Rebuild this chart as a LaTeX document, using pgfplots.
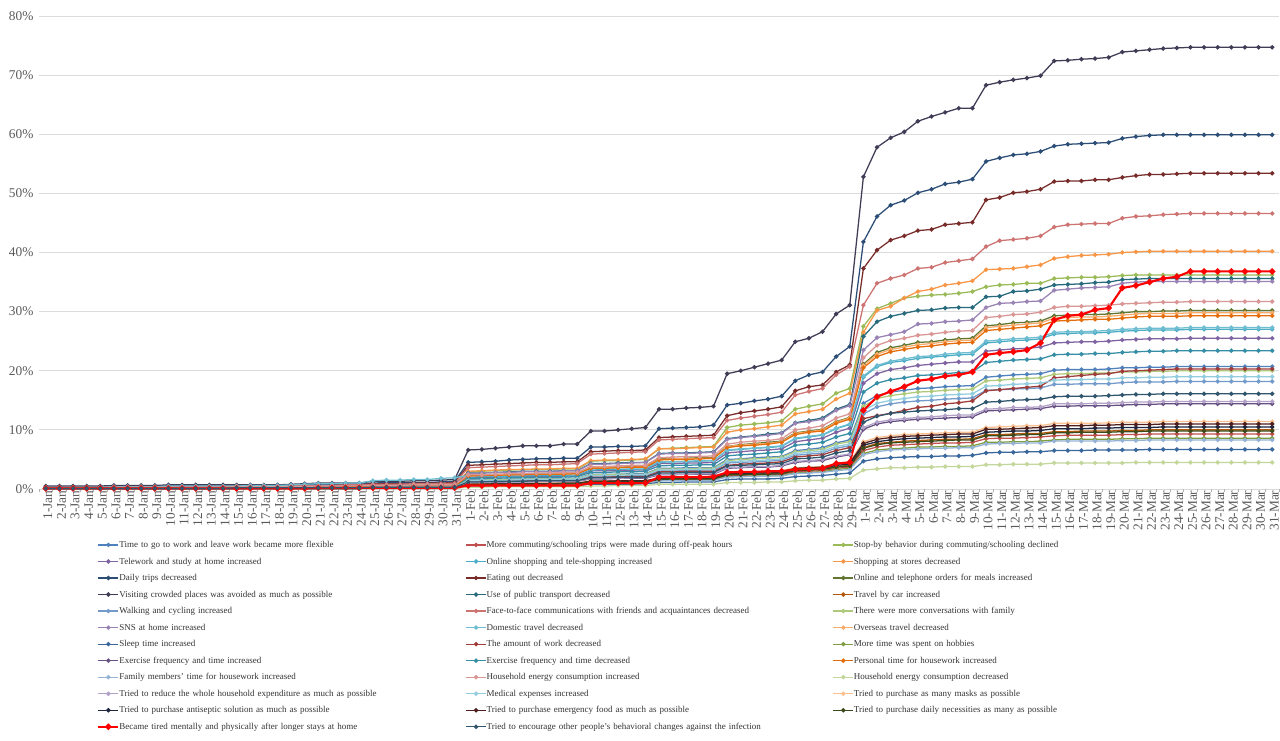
\documentclass[border=0pt]{standalone}
\usepackage{pgfplots}
\usepackage{pgfplotstable}
\pgfplotsset{compat=1.18}
\usepackage{fontspec}
\setmainfont{Liberation Serif}

% series colours
\definecolor{c1}{HTML}{4F81BD}\definecolor{c2}{HTML}{C0504D}\definecolor{c3}{HTML}{9BBB59}
\definecolor{c4}{HTML}{8064A2}\definecolor{c5}{HTML}{4BACC6}\definecolor{c6}{HTML}{F79646}
\definecolor{c7}{HTML}{2C4D75}\definecolor{c8}{HTML}{772C2A}\definecolor{c9}{HTML}{5F7530}
\definecolor{c10}{HTML}{3F3D56}\definecolor{c11}{HTML}{276A7C}\definecolor{c12}{HTML}{B65708}
\definecolor{c13}{HTML}{729ACA}\definecolor{c14}{HTML}{CD7371}\definecolor{c15}{HTML}{AFC97A}
\definecolor{c16}{HTML}{9983B5}\definecolor{c17}{HTML}{6FBDD1}\definecolor{c18}{HTML}{F9AB6B}
\definecolor{c19}{HTML}{3A679C}\definecolor{c20}{HTML}{9F3B38}\definecolor{c21}{HTML}{7E9D40}
\definecolor{c22}{HTML}{664F83}\definecolor{c23}{HTML}{358EA6}\definecolor{c24}{HTML}{E46C0A}
\definecolor{c25}{HTML}{95B3D7}\definecolor{c26}{HTML}{D99694}\definecolor{c27}{HTML}{C3D69B}
\definecolor{c28}{HTML}{B3A2C7}\definecolor{c29}{HTML}{93CDDD}\definecolor{c30}{HTML}{FAC090}
\definecolor{c31}{HTML}{1F2740}\definecolor{c32}{HTML}{4F1F1E}\definecolor{c33}{HTML}{3B4A1C}
\definecolor{c34}{HTML}{FF0000}\definecolor{c35}{HTML}{30566E}

% one series = one row of 91 daily values (1 Jan -- 31 Mar), stored as a column
\newcommand{\readseries}[2]{%
  \pgfplotstableread[header=false,row sep=\\]{#2\\}\tmpraw
  \pgfplotstabletranspose{#1}{\tmpraw}}

\readseries{\dA}{0.1 0.1 0.1 0.1 0.1 0.1 0.1 0.1 0.1 0.1 0.1 0.1 0.1 0.1 0.2 0.2 0.2 0.2 0.2 0.2 0.2 0.2 0.2 0.2 0.3 0.3 0.3 0.3 0.3 0.3 0.3
1.6 1.6 1.6 1.7 1.7 1.7 1.7 1.8 1.8 2.5 2.5 2.5 2.6 2.6 3.5 3.5 3.6 3.6 3.6 5.0 5.1 5.3 5.4 5.5 6.5 6.7 7.0 7.8 8.3
14.5 15.8 16.4 16.7 17.0 17.1 17.3 17.4 17.5 18.9 19.1 19.3 19.4 19.5 20.1 20.2 20.2 20.2 20.3 20.5 20.5 20.6 20.6 20.7 20.7 20.7 20.7 20.7 20.7 20.7 20.7}
\readseries{\dB}{0.1 0.1 0.1 0.1 0.1 0.1 0.1 0.1 0.1 0.1 0.1 0.1 0.1 0.1 0.1 0.1 0.1 0.1 0.1 0.1 0.1 0.1 0.1 0.1 0.2 0.2 0.2 0.2 0.2 0.2 0.2
0.7 0.7 0.7 0.8 0.8 0.8 0.8 0.8 0.8 1.1 1.1 1.1 1.2 1.2 1.6 1.6 1.6 1.6 1.6 2.2 2.3 2.4 2.4 2.5 2.9 3.0 3.1 3.5 3.7
6.5 7.1 7.4 7.5 7.6 7.7 7.8 7.8 7.9 8.5 8.6 8.6 8.7 8.8 9.0 9.1 9.1 9.1 9.1 9.2 9.2 9.3 9.3 9.3 9.3 9.3 9.3 9.3 9.3 9.3 9.3}
\readseries{\dC}{0.2 0.2 0.2 0.2 0.2 0.3 0.3 0.3 0.3 0.3 0.3 0.3 0.3 0.3 0.4 0.4 0.4 0.4 0.4 0.4 0.5 0.5 0.5 0.5 0.6 0.6 0.6 0.7 0.7 0.7 0.7
2.9 3.0 3.1 3.2 3.3 3.3 3.3 3.4 3.4 4.7 4.8 4.8 4.9 5.0 6.8 6.9 7.0 7.1 7.2 10.4 10.8 11.0 11.2 11.5 13.5 14.0 14.4 16.2 17.0
27.5 30.5 31.4 32.3 32.6 32.8 32.9 33.1 33.4 34.2 34.5 34.6 34.8 34.8 35.6 35.7 35.8 35.8 35.9 36.1 36.2 36.2 36.2 36.2 36.2 36.2 36.2 36.2 36.2 36.2 36.2}
\readseries{\dD}{0.2 0.2 0.2 0.2 0.2 0.2 0.2 0.2 0.2 0.2 0.2 0.2 0.2 0.2 0.3 0.3 0.3 0.3 0.3 0.3 0.3 0.3 0.4 0.4 0.4 0.5 0.5 0.5 0.5 0.5 0.5
1.9 2.0 2.0 2.1 2.1 2.1 2.1 2.2 2.2 3.1 3.1 3.1 3.2 3.2 4.3 4.3 4.4 4.4 4.5 6.1 6.3 6.5 6.6 6.8 8.0 8.3 8.6 9.6 10.3
17.9 19.5 20.2 20.5 20.9 21.1 21.3 21.5 21.5 23.3 23.5 23.7 23.8 24.0 24.7 24.8 24.9 24.9 25.0 25.2 25.3 25.4 25.4 25.4 25.5 25.5 25.5 25.5 25.5 25.5 25.5}
\readseries{\dE}{0.2 0.2 0.2 0.2 0.2 0.2 0.2 0.2 0.2 0.2 0.2 0.2 0.2 0.2 0.3 0.3 0.3 0.3 0.3 0.3 0.3 0.3 0.4 0.4 0.4 0.5 0.5 0.5 0.5 0.5 0.5
2.0 2.1 2.1 2.2 2.2 2.3 2.3 2.3 2.4 3.2 3.3 3.3 3.4 3.4 4.5 4.6 4.6 4.7 4.8 6.5 6.7 6.9 7.0 7.2 8.5 8.8 9.1 10.2 10.9
18.9 20.7 21.4 21.7 22.1 22.3 22.5 22.7 22.8 24.7 24.9 25.1 25.2 25.4 26.2 26.3 26.4 26.4 26.5 26.7 26.8 26.9 26.9 26.9 27.0 27.0 27.0 27.0 27.0 27.0 27.0}
\readseries{\dF}{0.3 0.3 0.3 0.3 0.3 0.3 0.3 0.3 0.3 0.4 0.4 0.4 0.4 0.4 0.4 0.4 0.4 0.4 0.4 0.5 0.5 0.5 0.6 0.6 0.7 0.7 0.7 0.8 0.8 0.8 0.8
3.0 3.1 3.2 3.3 3.3 3.4 3.4 3.5 3.5 4.8 4.9 4.9 5.0 5.1 6.8 6.8 6.9 7.0 7.1 9.6 10.0 10.2 10.5 10.8 12.7 13.1 13.5 15.2 16.2
26.5 30.2 30.9 32.3 33.4 33.8 34.5 34.8 35.2 37.1 37.2 37.3 37.6 37.9 39.0 39.3 39.5 39.6 39.7 40.0 40.1 40.2 40.2 40.2 40.2 40.2 40.2 40.2 40.2 40.2 40.2}
\readseries{\dG}{0.4 0.4 0.4 0.4 0.4 0.5 0.5 0.5 0.5 0.5 0.5 0.5 0.5 0.5 0.6 0.6 0.6 0.6 0.7 0.7 0.8 0.8 0.8 0.8 1.0 1.1 1.1 1.1 1.1 1.2 1.3
4.5 4.6 4.7 4.9 5.0 5.1 5.1 5.2 5.2 7.1 7.1 7.2 7.2 7.3 10.2 10.3 10.4 10.5 10.8 14.2 14.5 14.9 15.2 15.7 18.3 19.3 19.8 22.4 24.1
41.8 46.1 48.0 48.8 50.1 50.7 51.6 51.9 52.4 55.4 56.0 56.5 56.7 57.1 58.0 58.3 58.4 58.5 58.6 59.3 59.6 59.8 59.9 59.9 59.9 59.9 59.9 59.9 59.9 59.9 59.9}
\readseries{\dH}{0.3 0.3 0.3 0.3 0.3 0.4 0.4 0.4 0.4 0.4 0.4 0.4 0.4 0.4 0.5 0.5 0.5 0.5 0.5 0.6 0.6 0.6 0.7 0.7 0.9 0.9 0.9 1.0 1.0 1.0 1.1
4.0 4.1 4.2 4.3 4.4 4.5 4.5 4.6 4.6 6.3 6.4 6.5 6.5 6.6 8.7 8.8 8.9 9.0 9.1 12.4 12.9 13.2 13.5 13.9 16.6 17.3 17.6 19.8 21.0
37.3 40.4 42.1 42.8 43.7 43.9 44.7 44.9 45.1 48.9 49.3 50.1 50.3 50.7 52.0 52.1 52.1 52.3 52.3 52.7 53.0 53.2 53.2 53.3 53.4 53.4 53.4 53.4 53.4 53.4 53.4}
\readseries{\dI}{0.2 0.2 0.2 0.2 0.2 0.3 0.3 0.3 0.3 0.3 0.3 0.3 0.3 0.3 0.4 0.4 0.4 0.4 0.4 0.4 0.5 0.5 0.5 0.5 0.6 0.6 0.6 0.7 0.7 0.7 0.7
2.3 2.3 2.4 2.4 2.5 2.5 2.5 2.6 2.7 3.6 3.7 3.7 3.8 3.8 5.1 5.1 5.2 5.3 5.3 7.2 7.5 7.7 7.9 8.1 9.5 9.8 10.1 11.4 12.1
21.1 23.1 23.9 24.3 24.8 24.9 25.2 25.4 25.5 27.6 27.8 28.1 28.2 28.4 29.3 29.4 29.5 29.5 29.6 29.8 30.0 30.0 30.1 30.1 30.2 30.2 30.2 30.2 30.2 30.2 30.2}
\readseries{\dJ}{0.5 0.5 0.5 0.5 0.5 0.6 0.6 0.6 0.6 0.7 0.7 0.7 0.7 0.7 0.7 0.7 0.7 0.7 0.8 0.9 1.0 1.0 1.0 1.0 1.3 1.3 1.3 1.4 1.4 1.5 1.6
6.6 6.7 6.9 7.1 7.3 7.3 7.3 7.6 7.6 9.8 9.8 10.0 10.2 10.4 13.5 13.5 13.7 13.8 14.0 19.5 20.0 20.6 21.2 21.8 24.9 25.5 26.6 29.6 31.1
52.8 57.8 59.4 60.4 62.2 63.0 63.7 64.4 64.4 68.3 68.8 69.2 69.5 69.9 72.4 72.5 72.7 72.8 73.0 73.9 74.1 74.3 74.5 74.6 74.7 74.7 74.7 74.7 74.7 74.7 74.7}
\readseries{\dK}{0.2 0.2 0.2 0.2 0.2 0.3 0.3 0.3 0.3 0.3 0.3 0.3 0.3 0.3 0.4 0.4 0.4 0.4 0.4 0.4 0.5 0.5 0.5 0.5 0.6 0.6 0.6 0.7 0.7 0.7 0.7
2.7 2.7 2.8 2.9 3.0 3.0 3.0 3.1 3.1 4.3 4.3 4.4 4.5 4.5 6.0 6.1 6.1 6.2 6.3 8.5 8.8 9.0 9.3 9.5 11.2 11.6 12.0 13.5 14.3
25.8 28.3 29.2 29.7 30.2 30.3 30.6 30.7 30.7 32.5 32.6 33.4 33.5 33.8 34.5 34.6 34.7 34.9 35.0 35.4 35.5 35.6 35.6 35.6 35.6 35.6 35.6 35.6 35.6 35.6 35.6}
\readseries{\dL}{0.1 0.1 0.1 0.1 0.1 0.1 0.1 0.1 0.1 0.1 0.1 0.1 0.1 0.1 0.1 0.1 0.1 0.1 0.1 0.1 0.1 0.1 0.1 0.1 0.2 0.2 0.2 0.2 0.2 0.2 0.2
0.8 0.8 0.8 0.8 0.8 0.8 0.8 0.9 0.9 1.2 1.2 1.2 1.3 1.3 1.7 1.7 1.7 1.7 1.8 2.4 2.5 2.5 2.6 2.7 3.2 3.3 3.4 3.8 4.0
7.0 7.7 7.9 8.1 8.2 8.3 8.4 8.4 8.5 9.2 9.2 9.3 9.4 9.4 9.7 9.7 9.8 9.8 9.8 9.9 9.9 10.0 10.0 10.0 10.0 10.0 10.0 10.0 10.0 10.0 10.0}
\readseries{\dM}{0.1 0.1 0.1 0.1 0.1 0.1 0.1 0.1 0.1 0.1 0.1 0.1 0.1 0.1 0.2 0.2 0.2 0.2 0.2 0.2 0.2 0.2 0.2 0.2 0.3 0.3 0.3 0.3 0.3 0.3 0.3
1.4 1.4 1.4 1.5 1.5 1.5 1.5 1.6 1.6 2.2 2.2 2.2 2.3 2.3 3.1 3.1 3.1 3.2 3.2 4.4 4.5 4.6 4.7 4.9 5.7 5.9 6.1 6.9 7.3
12.7 13.9 14.4 14.7 14.9 15.0 15.2 15.3 15.4 16.7 16.8 16.9 17.0 17.1 17.7 17.7 17.8 17.8 17.8 18.0 18.1 18.1 18.1 18.2 18.2 18.2 18.2 18.2 18.2 18.2 18.2}
\readseries{\dN}{0.3 0.3 0.3 0.3 0.3 0.4 0.4 0.4 0.4 0.4 0.4 0.4 0.4 0.4 0.5 0.5 0.5 0.5 0.5 0.6 0.6 0.6 0.7 0.7 0.8 0.8 0.8 0.9 0.9 0.9 1.0
3.6 3.7 3.8 3.9 4.0 4.1 4.1 4.2 4.3 5.9 6.0 6.1 6.2 6.3 8.3 8.4 8.5 8.6 8.7 11.6 12.0 12.3 12.6 13.0 15.9 16.5 17.0 19.3 20.7
31.1 34.8 35.6 36.2 37.3 37.5 38.3 38.6 38.9 41.0 42.0 42.2 42.4 42.8 44.3 44.7 44.8 44.9 44.9 45.8 46.1 46.2 46.4 46.5 46.6 46.6 46.6 46.6 46.6 46.6 46.6}
\readseries{\dO}{0.1 0.1 0.1 0.1 0.1 0.1 0.1 0.1 0.1 0.1 0.1 0.1 0.1 0.1 0.2 0.2 0.2 0.2 0.2 0.2 0.2 0.2 0.2 0.2 0.3 0.3 0.3 0.3 0.3 0.3 0.3
1.5 1.5 1.6 1.6 1.7 1.7 1.7 1.7 1.8 2.4 2.4 2.5 2.5 2.5 3.4 3.4 3.4 3.5 3.5 4.8 5.0 5.1 5.2 5.4 6.3 6.5 6.7 7.6 8.0
14.0 15.3 15.8 16.1 16.4 16.5 16.7 16.8 16.9 18.3 18.4 18.6 18.7 18.8 19.4 19.5 19.5 19.6 19.6 19.8 19.8 19.9 19.9 20.0 20.0 20.0 20.0 20.0 20.0 20.0 20.0}
\readseries{\dP}{0.2 0.2 0.2 0.2 0.2 0.3 0.3 0.3 0.3 0.3 0.3 0.3 0.3 0.3 0.4 0.4 0.4 0.4 0.4 0.4 0.5 0.5 0.5 0.5 0.6 0.6 0.6 0.7 0.7 0.7 0.7
2.6 2.7 2.8 2.8 2.9 2.9 2.9 3.1 3.1 4.2 4.2 4.3 4.4 4.5 5.9 6.0 6.0 6.1 6.2 8.4 8.7 8.9 9.1 9.4 11.1 11.4 11.8 13.3 14.1
23.5 25.6 26.1 26.6 27.9 28.0 28.3 28.4 28.6 30.7 31.4 31.5 31.7 31.8 33.6 33.8 34.0 34.1 34.2 34.8 35.0 35.1 35.1 35.1 35.1 35.1 35.1 35.1 35.1 35.1 35.1}
\readseries{\dQ}{0.3 0.3 0.3 0.3 0.3 0.4 0.4 0.4 0.4 0.5 0.5 0.5 0.5 0.5 0.5 0.6 0.6 0.6 0.7 0.8 0.9 0.9 1.0 1.0 1.4 1.5 1.5 1.6 1.6 1.8 1.9
2.3 2.4 2.4 2.5 2.5 2.6 2.6 2.7 2.7 3.5 3.5 3.6 3.6 3.7 4.6 4.6 4.7 4.8 4.8 6.6 6.8 6.9 7.1 7.3 8.6 8.9 9.2 10.3 11.0
19.1 20.9 21.6 22.0 22.4 22.5 22.8 23.0 23.1 25.0 25.2 25.4 25.5 25.7 26.5 26.6 26.6 26.7 26.8 27.0 27.1 27.2 27.2 27.2 27.3 27.3 27.3 27.3 27.3 27.3 27.3}
\readseries{\dR}{0.2 0.2 0.2 0.2 0.2 0.2 0.2 0.2 0.2 0.2 0.2 0.2 0.2 0.2 0.3 0.3 0.3 0.3 0.3 0.3 0.3 0.3 0.4 0.4 0.4 0.5 0.5 0.5 0.5 0.5 0.5
2.2 2.3 2.4 2.4 2.5 2.5 2.5 2.6 2.6 3.6 3.6 3.7 3.7 3.8 5.0 5.1 5.1 5.2 5.2 7.2 7.4 7.6 7.7 8.0 9.4 9.7 10.0 11.3 12.0
20.9 22.8 23.6 24.0 24.4 24.6 24.9 25.1 25.2 27.3 27.5 27.7 27.9 28.1 28.9 29.0 29.1 29.1 29.2 29.4 29.6 29.7 29.7 29.7 29.8 29.8 29.8 29.8 29.8 29.8 29.8}
\readseries{\dS}{0.1 0.1 0.1 0.1 0.1 0.1 0.1 0.1 0.1 0.1 0.1 0.1 0.1 0.1 0.1 0.1 0.1 0.1 0.1 0.1 0.1 0.1 0.1 0.1 0.1 0.1 0.1 0.1 0.1 0.1 0.1
0.5 0.5 0.5 0.5 0.6 0.6 0.6 0.6 0.6 0.8 0.8 0.8 0.8 0.9 1.1 1.1 1.2 1.2 1.2 1.6 1.7 1.7 1.7 1.8 2.1 2.2 2.3 2.5 2.7
4.7 5.1 5.3 5.4 5.5 5.5 5.6 5.6 5.7 6.1 6.2 6.2 6.3 6.3 6.5 6.5 6.5 6.6 6.6 6.6 6.6 6.7 6.7 6.7 6.7 6.7 6.7 6.7 6.7 6.7 6.7}
\readseries{\dT}{0.1 0.1 0.1 0.1 0.1 0.1 0.1 0.1 0.1 0.1 0.1 0.1 0.1 0.1 0.2 0.2 0.2 0.2 0.2 0.2 0.2 0.2 0.2 0.2 0.3 0.3 0.3 0.3 0.3 0.3 0.3
1.2 1.2 1.3 1.3 1.3 1.4 1.4 1.4 1.4 2.0 2.0 2.1 2.1 2.1 2.9 2.9 3.0 3.0 3.0 4.0 4.2 4.3 4.4 4.6 5.4 5.6 5.8 6.5 7.0
11.9 12.4 12.8 13.3 13.8 14.0 14.4 14.6 14.9 16.6 16.8 17.0 17.2 17.4 18.8 19.0 19.2 19.4 19.5 19.9 20.0 20.1 20.2 20.3 20.3 20.3 20.3 20.3 20.3 20.3 20.3}
\readseries{\dU}{0.1 0.1 0.1 0.1 0.1 0.1 0.1 0.1 0.1 0.1 0.1 0.1 0.1 0.1 0.1 0.1 0.1 0.1 0.1 0.1 0.1 0.1 0.1 0.1 0.2 0.2 0.2 0.2 0.2 0.2 0.2
0.6 0.7 0.7 0.7 0.7 0.7 0.7 0.7 0.8 1.0 1.0 1.1 1.1 1.1 1.4 1.5 1.5 1.5 1.5 2.1 2.1 2.2 2.2 2.3 2.7 2.8 2.9 3.3 3.5
6.0 6.6 6.8 6.9 7.1 7.1 7.2 7.2 7.3 7.9 7.9 8.0 8.0 8.1 8.3 8.4 8.4 8.4 8.4 8.5 8.5 8.6 8.6 8.6 8.6 8.6 8.6 8.6 8.6 8.6 8.6}
\readseries{\dV}{0.1 0.1 0.1 0.1 0.1 0.1 0.1 0.1 0.1 0.1 0.1 0.1 0.1 0.1 0.2 0.2 0.2 0.2 0.2 0.2 0.2 0.2 0.2 0.2 0.3 0.3 0.3 0.3 0.3 0.3 0.3
1.1 1.1 1.1 1.2 1.2 1.2 1.2 1.3 1.3 1.7 1.7 1.8 1.8 1.8 2.4 2.4 2.5 2.5 2.5 3.5 3.6 3.7 3.7 3.9 4.5 4.7 4.8 5.4 5.8
10.1 11.0 11.4 11.6 11.8 11.9 12.0 12.1 12.2 13.2 13.3 13.4 13.5 13.6 14.0 14.0 14.1 14.1 14.1 14.2 14.3 14.3 14.4 14.4 14.4 14.4 14.4 14.4 14.4 14.4 14.4}
\readseries{\dW}{0.2 0.2 0.2 0.2 0.2 0.2 0.2 0.2 0.2 0.2 0.2 0.2 0.2 0.2 0.3 0.3 0.3 0.3 0.3 0.3 0.3 0.3 0.4 0.4 0.4 0.5 0.5 0.5 0.5 0.5 0.5
1.8 1.8 1.8 1.9 1.9 2.0 2.0 2.0 2.1 2.8 2.8 2.9 2.9 3.0 3.9 4.0 4.0 4.1 4.1 5.6 5.8 5.9 6.1 6.3 7.4 7.6 7.9 8.8 9.4
16.4 17.9 18.5 18.8 19.2 19.3 19.5 19.7 19.8 21.4 21.6 21.8 21.9 22.0 22.7 22.8 22.8 22.9 22.9 23.1 23.2 23.3 23.3 23.4 23.4 23.4 23.4 23.4 23.4 23.4 23.4}
\readseries{\dX}{0.2 0.2 0.2 0.2 0.2 0.2 0.2 0.2 0.2 0.2 0.2 0.2 0.2 0.2 0.3 0.3 0.3 0.3 0.3 0.3 0.3 0.3 0.4 0.4 0.4 0.5 0.5 0.5 0.5 0.5 0.5
2.2 2.3 2.3 2.4 2.4 2.5 2.5 2.5 2.6 3.5 3.5 3.6 3.7 3.7 4.9 5.0 5.0 5.1 5.2 7.0 7.3 7.4 7.6 7.9 9.2 9.6 9.8 11.1 11.8
20.5 22.4 23.2 23.6 24.0 24.2 24.5 24.7 24.8 26.8 27.0 27.2 27.4 27.6 28.4 28.5 28.6 28.7 28.7 28.9 29.1 29.2 29.2 29.2 29.3 29.3 29.3 29.3 29.3 29.3 29.3}
\readseries{\dY}{0.1 0.1 0.1 0.1 0.1 0.1 0.1 0.1 0.1 0.1 0.1 0.1 0.1 0.1 0.1 0.1 0.1 0.1 0.1 0.1 0.1 0.1 0.1 0.1 0.2 0.2 0.2 0.2 0.2 0.2 0.2
0.6 0.6 0.7 0.7 0.7 0.7 0.7 0.7 0.7 1.0 1.0 1.0 1.0 1.1 1.4 1.4 1.4 1.4 1.5 2.0 2.1 2.1 2.2 2.2 2.6 2.7 2.8 3.1 3.3
5.8 6.3 6.6 6.7 6.8 6.9 6.9 7.0 7.0 7.6 7.7 7.7 7.8 7.8 8.1 8.1 8.1 8.1 8.1 8.2 8.2 8.3 8.3 8.3 8.3 8.3 8.3 8.3 8.3 8.3 8.3}
\readseries{\dZ}{0.2 0.2 0.2 0.2 0.2 0.3 0.3 0.3 0.3 0.3 0.3 0.3 0.3 0.3 0.4 0.4 0.4 0.4 0.4 0.4 0.5 0.5 0.5 0.5 0.6 0.6 0.6 0.7 0.7 0.7 0.7
2.4 2.4 2.5 2.6 2.6 2.7 2.7 2.8 2.8 3.8 3.8 3.9 4.0 4.0 5.3 5.4 5.5 5.5 5.6 7.6 7.9 8.1 8.2 8.5 10.0 10.3 10.7 12.0 12.7
22.2 24.3 25.1 25.5 26.0 26.2 26.5 26.7 26.8 29.0 29.2 29.5 29.6 29.9 30.7 30.9 30.9 31.0 31.1 31.3 31.4 31.5 31.6 31.6 31.7 31.7 31.7 31.7 31.7 31.7 31.7}
\readseries{\dAA}{0.1 0.1 0.1 0.1 0.1 0.1 0.1 0.1 0.1 0.1 0.1 0.1 0.1 0.1 0.1 0.1 0.1 0.1 0.1 0.1 0.1 0.1 0.1 0.1 0.1 0.1 0.1 0.1 0.1 0.1 0.1
0.3 0.3 0.4 0.4 0.4 0.4 0.4 0.4 0.4 0.5 0.5 0.6 0.6 0.6 0.8 0.8 0.8 0.8 0.8 1.1 1.1 1.1 1.2 1.2 1.4 1.5 1.5 1.7 1.8
3.2 3.4 3.6 3.6 3.7 3.7 3.8 3.8 3.8 4.1 4.1 4.2 4.2 4.2 4.4 4.4 4.4 4.4 4.4 4.4 4.5 4.5 4.5 4.5 4.5 4.5 4.5 4.5 4.5 4.5 4.5}
\readseries{\dAB}{0.1 0.1 0.1 0.1 0.1 0.1 0.1 0.1 0.1 0.1 0.1 0.1 0.1 0.1 0.2 0.2 0.2 0.2 0.2 0.2 0.2 0.2 0.2 0.2 0.3 0.3 0.3 0.3 0.3 0.3 0.3
1.1 1.1 1.2 1.2 1.2 1.2 1.2 1.3 1.3 1.8 1.8 1.8 1.9 1.9 2.5 2.5 2.5 2.6 2.6 3.6 3.7 3.8 3.8 4.0 4.7 4.8 5.0 5.6 5.9
10.4 11.3 11.7 11.9 12.1 12.2 12.4 12.5 12.5 13.5 13.6 13.8 13.8 13.9 14.4 14.4 14.4 14.5 14.5 14.6 14.7 14.7 14.8 14.8 14.8 14.8 14.8 14.8 14.8 14.8 14.8}
\readseries{\dAC}{0.1 0.1 0.1 0.1 0.1 0.1 0.1 0.1 0.1 0.1 0.1 0.1 0.1 0.1 0.2 0.2 0.2 0.2 0.2 0.2 0.2 0.2 0.2 0.2 0.3 0.3 0.3 0.3 0.3 0.3 0.3
1.4 1.5 1.5 1.5 1.6 1.6 1.6 1.7 1.7 2.3 2.3 2.3 2.4 2.4 3.2 3.2 3.3 3.3 3.3 4.6 4.7 4.8 4.9 5.1 6.0 6.2 6.4 7.2 7.6
13.3 14.5 15.0 15.3 15.6 15.7 15.9 16.0 16.1 17.4 17.5 17.7 17.8 17.9 18.4 18.5 18.5 18.6 18.6 18.8 18.8 18.9 18.9 19.0 19.0 19.0 19.0 19.0 19.0 19.0 19.0}
\readseries{\dAD}{0.1 0.1 0.1 0.1 0.1 0.1 0.1 0.1 0.1 0.1 0.1 0.1 0.1 0.1 0.1 0.1 0.1 0.1 0.1 0.1 0.1 0.1 0.1 0.1 0.2 0.2 0.2 0.2 0.2 0.2 0.2
0.9 0.9 0.9 0.9 0.9 1.0 1.0 1.0 1.0 1.4 1.4 1.4 1.4 1.4 1.9 1.9 2.0 2.0 2.0 2.7 2.8 2.9 3.0 3.1 3.6 3.7 3.8 4.3 4.6
8.0 8.7 9.0 9.2 9.3 9.4 9.5 9.6 9.6 10.4 10.5 10.6 10.7 10.7 11.1 11.1 11.1 11.1 11.2 11.3 11.3 11.3 11.4 11.4 11.4 11.4 11.4 11.4 11.4 11.4 11.4}
\readseries{\dAE}{0.1 0.1 0.1 0.1 0.1 0.1 0.1 0.1 0.1 0.1 0.1 0.1 0.1 0.1 0.1 0.1 0.1 0.1 0.1 0.1 0.1 0.1 0.1 0.1 0.2 0.2 0.2 0.2 0.2 0.2 0.2
0.8 0.8 0.8 0.9 0.9 0.9 0.9 0.9 0.9 1.3 1.3 1.3 1.3 1.3 1.8 1.8 1.8 1.8 1.8 2.5 2.6 2.7 2.7 2.8 3.3 3.4 3.5 4.0 4.2
7.4 8.0 8.3 8.5 8.6 8.7 8.8 8.8 8.9 9.6 9.7 9.8 9.8 9.9 10.2 10.2 10.2 10.3 10.3 10.4 10.4 10.4 10.5 10.5 10.5 10.5 10.5 10.5 10.5 10.5 10.5}
\readseries{\dAF}{0.1 0.1 0.1 0.1 0.1 0.1 0.1 0.1 0.1 0.1 0.1 0.1 0.1 0.1 0.1 0.1 0.1 0.1 0.1 0.1 0.1 0.1 0.1 0.1 0.2 0.2 0.2 0.2 0.2 0.2 0.2
0.8 0.8 0.9 0.9 0.9 0.9 0.9 1.0 1.0 1.3 1.3 1.4 1.4 1.4 1.8 1.9 1.9 1.9 1.9 2.6 2.7 2.8 2.9 2.9 3.5 3.6 3.7 4.2 4.4
7.7 8.4 8.7 8.9 9.0 9.1 9.2 9.3 9.3 10.1 10.1 10.2 10.3 10.4 10.7 10.7 10.7 10.8 10.8 10.9 10.9 10.9 11.0 11.0 11.0 11.0 11.0 11.0 11.0 11.0 11.0}
\readseries{\dAG}{0.1 0.1 0.1 0.1 0.1 0.1 0.1 0.1 0.1 0.1 0.1 0.1 0.1 0.1 0.1 0.1 0.1 0.1 0.1 0.1 0.1 0.1 0.1 0.1 0.2 0.2 0.2 0.2 0.2 0.2 0.2
0.7 0.8 0.8 0.8 0.8 0.8 0.8 0.9 0.9 1.2 1.2 1.2 1.2 1.2 1.6 1.7 1.7 1.7 1.7 2.4 2.4 2.5 2.5 2.6 3.1 3.2 3.3 3.7 3.9
6.9 7.5 7.8 7.9 8.0 8.1 8.2 8.3 8.3 9.0 9.0 9.1 9.2 9.2 9.5 9.5 9.6 9.6 9.6 9.7 9.7 9.8 9.8 9.8 9.8 9.8 9.8 9.8 9.8 9.8 9.8}
\readseries{\dAH}{0.1 0.1 0.1 0.1 0.1 0.1 0.1 0.1 0.1 0.1 0.1 0.1 0.1 0.1 0.1 0.1 0.1 0.1 0.1 0.1 0.2 0.2 0.2 0.2 0.2 0.2 0.2 0.2 0.2 0.2 0.2
0.6 0.6 0.6 0.6 0.6 0.6 0.6 0.6 0.6 1.0 1.0 1.0 1.0 1.0 2.0 2.0 2.0 2.0 2.1 2.8 2.9 2.9 3.0 3.0 3.3 3.4 3.5 4.3 4.5
13.3 15.6 16.5 17.3 18.3 18.6 19.1 19.3 19.8 22.7 23.0 23.2 23.5 24.7 28.6 29.3 29.5 30.3 30.6 34.0 34.4 35.0 35.6 35.9 36.8 36.8 36.8 36.8 36.8 36.8 36.8}
\readseries{\dAI}{0.1 0.1 0.1 0.1 0.1 0.1 0.1 0.1 0.1 0.1 0.1 0.1 0.1 0.1 0.2 0.2 0.2 0.2 0.2 0.2 0.2 0.2 0.2 0.2 0.3 0.3 0.3 0.3 0.3 0.3 0.3
1.2 1.2 1.3 1.3 1.3 1.4 1.4 1.4 1.4 1.9 1.9 2.0 2.0 2.0 2.7 2.7 2.8 2.8 2.8 3.9 4.0 4.1 4.2 4.3 5.1 5.2 5.4 6.1 6.5
11.3 12.3 12.8 13.0 13.2 13.3 13.4 13.6 13.6 14.7 14.8 15.0 15.1 15.2 15.6 15.7 15.7 15.7 15.8 15.9 16.0 16.0 16.1 16.1 16.1 16.1 16.1 16.1 16.1 16.1 16.1}

\pgfplotsset{
  ser/.style={line width=0.95pt, mark=*, mark size=1.15pt, mark options={solid}},
}
\newcommand{\ser}[3]{\addplot[ser, color=#1] table[x expr=\coordindex, y index=1] {#2}; \addlegendentry{#3}}

\begin{document}
\begin{tikzpicture}[font=\fontsize{6.75}{8.1}\selectfont]
\useasboundingbox (0,0) rectangle (960pt,555pt);
\begin{axis}[
  at={(29.25pt,188.25pt)}, anchor=south west,
  scale only axis, width=930pt, height=354.75pt,
  xmin=-0.5, xmax=90.5, ymin=0, ymax=80,
  clip=false,
  axis line style={draw=none},
  ymajorgrids, grid style={draw=black!14, line width=0.6pt},
  ytick={0,10,...,80},
  yticklabel={\pgfmathprintnumber{\tick}\%},
  /pgf/number format/assume math mode=true,
  xtick={0,...,90},
  xticklabels={1-Jan,2-Jan,3-Jan,4-Jan,5-Jan,6-Jan,7-Jan,8-Jan,9-Jan,10-Jan,11-Jan,12-Jan,13-Jan,14-Jan,15-Jan,16-Jan,17-Jan,18-Jan,19-Jan,20-Jan,21-Jan,22-Jan,23-Jan,24-Jan,25-Jan,26-Jan,27-Jan,28-Jan,29-Jan,30-Jan,31-Jan,1-Feb,2-Feb,3-Feb,4-Feb,5-Feb,6-Feb,7-Feb,8-Feb,9-Feb,10-Feb,11-Feb,12-Feb,13-Feb,14-Feb,15-Feb,16-Feb,17-Feb,18-Feb,19-Feb,20-Feb,21-Feb,22-Feb,23-Feb,24-Feb,25-Feb,26-Feb,27-Feb,28-Feb,29-Feb,1-Mar,2-Mar,3-Mar,4-Mar,5-Mar,6-Mar,7-Mar,8-Mar,9-Mar,10-Mar,11-Mar,12-Mar,13-Mar,14-Mar,15-Mar,16-Mar,17-Mar,18-Mar,19-Mar,20-Mar,21-Mar,22-Mar,23-Mar,24-Mar,25-Mar,26-Mar,27-Mar,28-Mar,29-Mar,30-Mar,31-Mar},
  minor xtick={-0.5,0.5,...,90.5},
  major tick length=0pt,
  minor tick length=2.5pt,
  tick align=outside,
  xtick pos=left, ytick pos=left,
  minor x tick style={draw=black!30, line width=0.5pt},
  ytick style={draw=none},
  tick label style={font=\fontsize{10}{12}\selectfont, text=black!65},
  xticklabel style={rotate=90, anchor=east, inner sep=1pt, yshift=-1.5pt},
  yticklabel style={anchor=east, inner sep=1pt, xshift=-3pt},
  legend columns=3,
  legend cell align=left,
  legend style={at={(axis description cs:0.0468,-0.1078)}, anchor=north west,
    draw=none, fill=none, inner sep=0pt, row sep=5.4pt,
    font=\fontsize{6.75}{8.1}\selectfont, text=black!80,
    nodes={inner sep=0pt, text height=5.5pt, text depth=1.5pt, text width=258pt, align=left},
    /tikz/every even column/.append style={column sep=1.5pt}},
  legend image code/.code={\draw[mark repeat=2, mark phase=2, #1] plot coordinates {(0pt,0pt) (7.5pt,0pt) (15pt,0pt)};},
]
\ser{c1}{\dA}{Time to go to work and leave work became more flexible}
\ser{c2}{\dB}{More commuting/schooling trips were made during off-peak hours}
\ser{c3}{\dC}{Stop-by behavior during commuting/schooling declined}
\ser{c4}{\dD}{Telework and study at home increased}
\ser{c5}{\dE}{Online shopping and tele-shopping increased}
\ser{c6}{\dF}{Shopping at stores decreased}
\ser{c7}{\dG}{Daily trips decreased}
\ser{c8}{\dH}{Eating out decreased}
\ser{c9}{\dI}{Online and telephone orders for meals increased}
\ser{c10}{\dJ}{Visiting crowded places was avoided as much as possible}
\ser{c11}{\dK}{Use of public transport decreased}
\ser{c12}{\dL}{Travel by car increased}
\ser{c13}{\dM}{Walking and cycling increased}
\ser{c14}{\dN}{Face-to-face communications with friends and acquaintances decreased}
\ser{c15}{\dO}{There were more conversations with family}
\ser{c16}{\dP}{SNS at home increased}
\ser{c17}{\dQ}{Domestic travel decreased}
\ser{c18}{\dR}{Overseas travel decreased}
\ser{c19}{\dS}{Sleep time increased}
\ser{c20}{\dT}{The amount of work decreased}
\ser{c21}{\dU}{More time was spent on hobbies}
\ser{c22}{\dV}{Exercise frequency and time increased}
\ser{c23}{\dW}{Exercise frequency and time decreased}
\ser{c24}{\dX}{Personal time for housework increased}
\ser{c25}{\dY}{Family members' time for housework increased}
\ser{c26}{\dZ}{Household energy consumption increased}
\ser{c27}{\dAA}{Household energy consumption decreased}
\ser{c28}{\dAB}{Tried to reduce the whole household expenditure as much as possible}
\ser{c29}{\dAC}{Medical expenses increased}
\ser{c30}{\dAD}{Tried to purchase as many masks as possible}
\ser{c31}{\dAE}{Tried to purchase antiseptic solution as much as possible}
\ser{c32}{\dAF}{Tried to purchase emergency food as much as possible}
\ser{c33}{\dAG}{Tried to purchase daily necessities as many as possible}
\addplot[ser, color=c34, line width=1.6pt, mark size=1.45pt] table[x expr=\coordindex, y index=1] {\dAH};
\addlegendentry{Became tired mentally and physically after longer stays at home}
\ser{c35}{\dAI}{Tried to encourage other people's behavioral changes against the infection}
\end{axis}
\end{tikzpicture}
\end{document}
